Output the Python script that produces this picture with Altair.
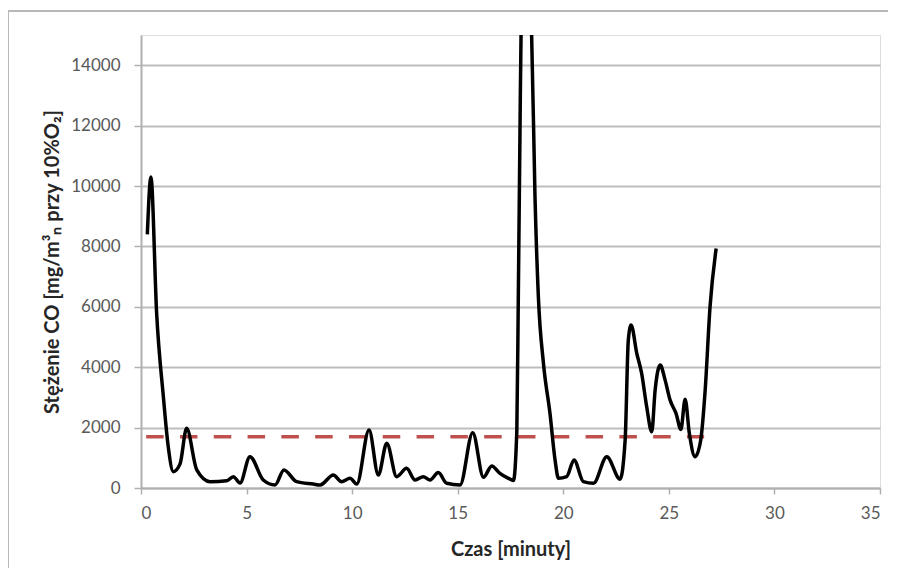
import altair as alt
import pandas as pd

# CO concentration time series
minutes = [0.30, 0.47, 0.74, 1.06, 1.29, 1.53, 1.85, 2.16, 2.64, 3.27, 4.06, 4.37, 4.69,
           5.16, 5.79, 6.35, 6.77, 7.37, 8.16, 8.48, 9.11, 9.50, 9.90, 10.22, 10.80,
           11.24, 11.64, 12.11, 12.58, 12.98, 13.37, 13.69, 14.08, 14.48, 15.11, 15.71,
           16.22, 16.61, 17.00, 17.40, 17.64, 17.80, 17.87, 17.95, 18.00, 18.25, 18.50,
           18.66, 18.82, 19.06, 19.37, 19.61, 19.77, 20.16, 20.51, 20.95, 21.43, 22.06,
           22.69, 22.93, 23.08, 23.21, 23.48, 23.71, 23.95, 24.19, 24.35, 24.59, 24.82,
           25.06, 25.34, 25.57, 25.77, 25.97, 26.24, 26.51, 26.72, 26.95, 27.24]
co_values = [8400, 10300, 5800, 3020, 1370, 540, 800, 1975, 600, 210, 240, 375, 165,
             1036, 265, 100, 600, 210, 130, 100, 430, 210, 320, 130, 1920,
             430, 1480, 375, 650, 265, 375, 265, 510, 155, 100, 1830,
             355, 730, 485, 320, 250, 1920, 6330, 11850, 15050, 17500, 15000,
             9640, 6330, 4130, 2470, 930, 320, 375, 930, 210, 155, 1036,
             290, 1590, 4900, 5400, 4460, 3800, 2690, 1860, 3240, 4070, 3580,
             2910, 2470, 1940, 2940, 1810, 1036, 1590, 3240, 6000, 7930]

# Limit line (dashed red)
limit_minutes = [0.245, 26.67]
limit_values = [1700, 1700]

x_ticks = [0, 5, 10, 15, 20, 25, 30, 35]
y_ticks = [0, 2000, 4000, 6000, 8000, 10000, 12000, 14000]

df = pd.DataFrame({"t": minutes, "co": co_values})
lim = pd.DataFrame({"t": limit_minutes, "co": limit_values})

W, H = 739, 453
FONT = "Lato"

x_scale = alt.Scale(domain=[0, 35], nice=False, zero=False)
y_scale = alt.Scale(domain=[0, 15000], nice=False)

x_axis = alt.Axis(values=x_ticks, title="Czas [minuty]", grid=False, format="d",
                  labelFont=FONT, labelFontSize=17, labelColor="#595959",
                  titleFont=FONT, titleFontSize=20, titleFontWeight="bold",
                  titleColor="#262626", titlePadding=18, labelPadding=11,
                  tickSize=6, tickColor="#b0b0b0", tickWidth=1.5,
                  domainColor="#b0b0b0", domainWidth=2)
y_axis = alt.Axis(values=y_ticks, title="Stężenie CO [mg/m³ₙ przy 10%O₂]", grid=True,
                  format="d", gridColor="#bdbdbd", gridWidth=2,
                  labelFont=FONT, labelFontSize=17, labelColor="#595959",
                  titleFont=FONT, titleFontSize=20, titleFontWeight="bold",
                  titleColor="#262626", titlePadding=8, labelPadding=14,
                  tickSize=7, tickColor="#b0b0b0", tickWidth=1.5,
                  domainColor="#b0b0b0", domainWidth=2)

limit_line = alt.Chart(lim).mark_line(
    color="#c0504d", strokeWidth=3.5, strokeDash=[17.5, 16.3]
).encode(
    x=alt.X("t:Q", scale=x_scale, axis=x_axis),
    y=alt.Y("co:Q", scale=y_scale, axis=y_axis),
)

co_line = alt.Chart(df).mark_line(
    color="black", strokeWidth=3.5, interpolate="monotone", clip=True
).encode(
    x=alt.X("t:Q", scale=x_scale),
    y=alt.Y("co:Q", scale=y_scale),
)

frame_top = alt.Chart(pd.DataFrame({"a": [0]})).mark_rule(
    color="#b8b8b8", strokeWidth=2
).encode(x=alt.value(-133), x2=alt.value(W + 30), y=alt.value(-24))
frame_left = alt.Chart(pd.DataFrame({"a": [0]})).mark_rule(
    color="#b8b8b8", strokeWidth=2
).encode(x=alt.value(-133), y=alt.value(-24), y2=alt.value(H + 100))

chart = alt.layer(frame_top, frame_left, limit_line, co_line).properties(
    width=W, height=H,
    autosize=alt.AutoSizeParams(type="none"),
    padding={"left": 133, "top": 27, "right": 8, "bottom": 80},
).configure_view(stroke=None).configure(background="white")

chart.save("out.html", embed_options={"renderer": "svg", "actions": False})
